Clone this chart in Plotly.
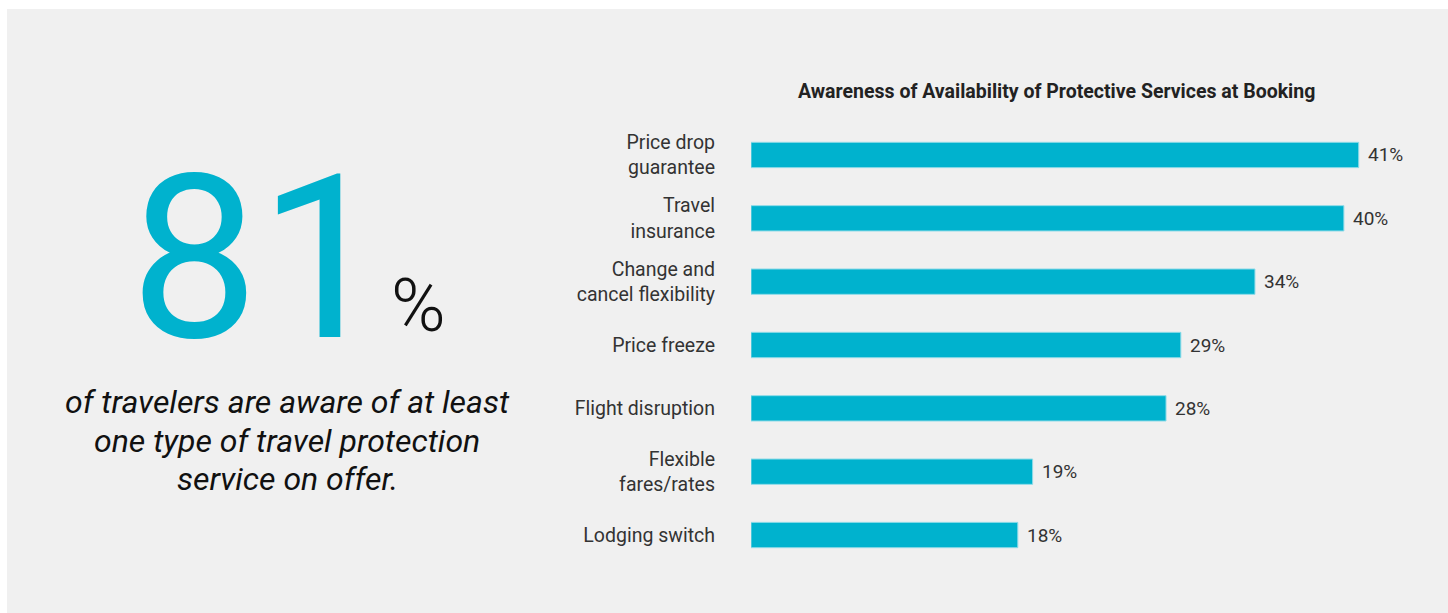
import plotly.graph_objects as go

# Survey data
services = [
    "Price drop<br>guarantee",
    "Travel<br>insurance",
    "Change and<br>cancel flexibility",
    "Price freeze",
    "Flight disruption",
    "Flexible<br>fares/rates",
    "Lodging switch",
]
awareness_pct = [41, 40, 34, 29, 28, 19, 18]
headline_value = "81"
headline_caption = [
    "of travelers are aware of at least",
    "one type of travel protection",
    "service on offer.",
]
chart_title = "Awareness of Availability of Protective Services at Booking"

W, H = 1448, 613
ACCENT = "#00B2CE"
FONT = "Roboto, 'Open Sans', sans-serif"

fig = go.Figure()

fig.add_trace(go.Bar(
    x=awareness_pct,
    y=services,
    orientation="h",
    width=0.4,
    marker=dict(color=ACCENT, line=dict(color="#8fdbe8", width=1)),
    hoverinfo="skip",
))

# value labels to the right of each bar
for s, v in zip(services, awareness_pct):
    fig.add_annotation(
        x=v, y=s, xref="x", yref="y",
        text=f"{v}%", showarrow=False,
        xanchor="left", yanchor="middle", xshift=7,
        font=dict(family=FONT, size=19, color="#333333"),
    )

# light panel behind everything
fig.add_shape(
    type="rect", xref="paper", yref="paper",
    x0=7 / W, x1=1, y0=0, y1=1 - 9 / H,
    fillcolor="#f0f0f0", line=dict(width=0), layer="below",
)

# chart title
fig.add_annotation(
    x=1056 / W, y=1 - 91 / H, xref="paper", yref="paper",
    text=f"<b>{chart_title}</b>", showarrow=False,
    xanchor="center", yanchor="middle",
    font=dict(family=FONT, size=19.5, color="#222222"),
)

# headline number (box kept tight around the digits)
fig.add_annotation(
    x=258 / W, y=1 - 259 / H, xref="paper", yref="paper",
    text=headline_value, showarrow=False,
    xanchor="center", yanchor="middle", height=190, valign="middle",
    font=dict(family=FONT, size=229, color=ACCENT),
)
fig.add_annotation(
    x=418 / W, y=1 - 305 / H, xref="paper", yref="paper",
    text="%", showarrow=False,
    xanchor="center", yanchor="middle",
    font=dict(family=FONT, size=74, color="#111111", weight=300),
)
for i, line in enumerate(headline_caption):
    fig.add_annotation(
        x=287 / W, y=1 - (402 + 38.5 * i) / H, xref="paper", yref="paper",
        text=f"<i>{line}</i>", showarrow=False,
        xanchor="center", yanchor="middle", align="center",
        font=dict(family=FONT, size=32, color="#111111"),
    )

fig.update_layout(
    width=W, height=H,
    margin=dict(l=0, r=0, t=0, b=0),
    paper_bgcolor="white",
    plot_bgcolor="rgba(0,0,0,0)",
    showlegend=False,
    xaxis=dict(
        domain=[751 / W, 1418 / W],
        range=[0, 45],
        visible=False,
        fixedrange=True,
    ),
    yaxis=dict(
        domain=[1 - 566.7 / H, 1 - 123.3 / H],
        categoryorder="array",
        categoryarray=services,
        range=[6.5, -0.5],
        showgrid=False, zeroline=False, showline=False,
        ticks="",
        ticklabelstandoff=35,
        tickfont=dict(family=FONT, size=19.5, color="#333333"),
        fixedrange=True,
    ),
)

fig.write_html("out.html")
